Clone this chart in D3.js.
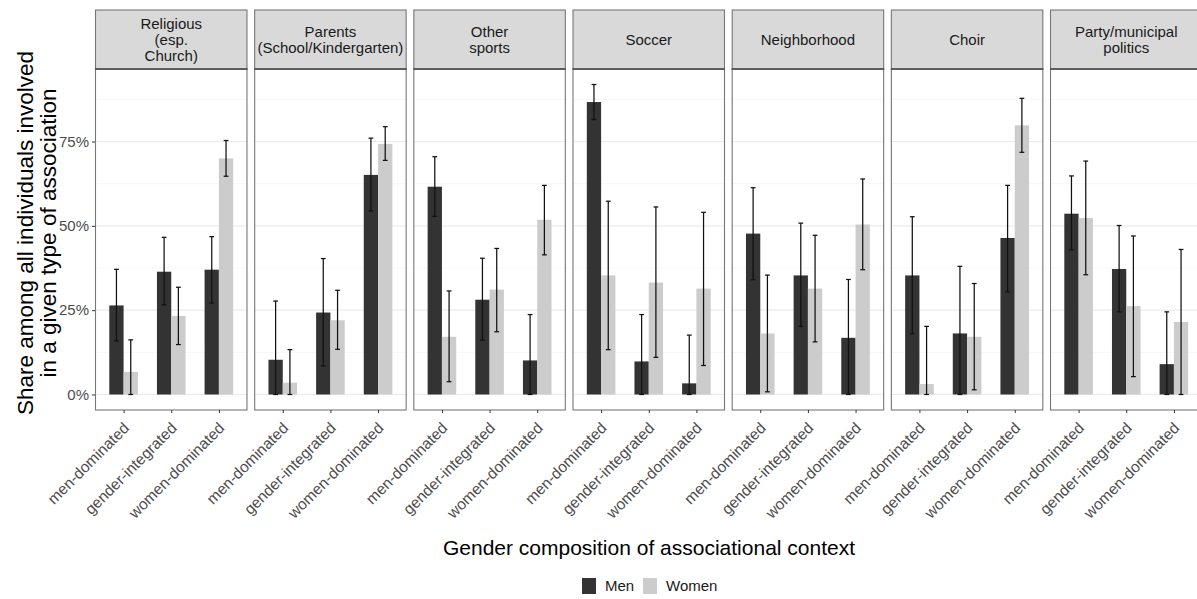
<!DOCTYPE html>
<html>
<head>
<meta charset="utf-8">
<script src="https://cdn.jsdelivr.net/npm/d3@7"></script>
<style>
  html, body { margin: 0; padding: 0; background: #fff; }
  svg { display: block; font-family: "Liberation Sans", Arial, Helvetica, sans-serif; }
</style>
</head>
<body>
<svg id="chart" width="1197" height="599"></svg>
<script>
// Association types (facet strips), one entry per line of the strip label
const panelLabels = [
  ["Religious", "(esp.", "Church)"],
  ["Parents", "(School/Kindergarten)"],
  ["Other", "sports"],
  ["Soccer"],
  ["Neighborhood"],
  ["Choir"],
  ["Party/municipal", "politics"]
];
const contexts = ["men-dominated", "gender-integrated", "women-dominated"];
const genders = ["Men", "Women"];

// Shares (%) per panel, in context order
const menShare   = [[26.4, 36.4, 37.0], [10.3, 24.3, 65.1], [61.6, 28.1, 10.1], [86.7, 9.8, 3.3], [47.7, 35.3, 16.8], [35.3, 18.1, 46.4], [53.6, 37.2, 9.0]];
const menLow     = [[15.9, 26.6, 27.1], [0.0, 8.5, 54.4], [52.8, 16.1, 0.0], [81.5, 0.0, 0.0], [34.0, 20.2, 0.0], [18.0, 0.0, 30.4], [42.9, 24.5, 0.0]];
const menHigh    = [[37.1, 46.6, 46.8], [27.7, 40.3, 76.0], [70.5, 40.4, 23.7], [91.9, 23.7, 17.6], [61.3, 50.8, 34.1], [52.7, 38.0, 62.0], [64.8, 50.1, 24.5]];
const womenShare = [[6.7, 23.3, 70.0], [3.5, 22.0, 74.3], [17.1, 31.1, 51.8], [35.3, 33.2, 31.4], [18.1, 31.4, 50.4], [3.1, 17.1, 79.8], [52.3, 26.2, 21.5]];
const womenLow   = [[0.0, 14.8, 64.7], [0.0, 13.4, 69.4], [3.8, 18.6, 41.4], [13.3, 11.0, 8.6], [0.8, 15.6, 37.0], [0.0, 1.4, 71.8], [35.5, 5.3, 0.0]];
const womenHigh  = [[16.2, 31.8, 75.3], [13.3, 30.9, 79.4], [30.7, 43.3, 62.0], [57.3, 55.6, 54.0], [35.4, 47.2, 63.9], [20.2, 32.9, 87.8], [69.2, 47.0, 43.0]];
const yTicks = [0, 25, 50, 75];
const yMinor = [12.5, 37.5, 62.5, 87.5];

const colors = { Men: "#333333", Women: "#cccccc" };

// Long-format rows
const rows = [];
panelLabels.forEach((_, p) => {
  contexts.forEach((c, k) => {
    rows.push({ panel: p, context: c, gender: "Men", value: menShare[p][k], lo: menLow[p][k], hi: menHigh[p][k] });
    rows.push({ panel: p, context: c, gender: "Women", value: womenShare[p][k], lo: womenLow[p][k], hi: womenHigh[p][k] });
  });
});

const svg = d3.select("#chart");

const panelTop = 69, panelBottom = 410, stripTop = 10;
const panelX = d3.scaleBand()
  .domain(d3.range(panelLabels.length))
  .range([95, 1202.5])
  .paddingInner(0.042)
  .paddingOuter(0);
const pw = panelX.bandwidth();

const yMax = d3.max(rows, d => d.hi);
const yPad = yMax * 0.05;
const y = d3.scaleLinear().domain([-yPad, yMax + yPad]).range([panelBottom, panelTop]);

const x = d3.scalePoint().domain(contexts).range([0, pw]).padding(0.6);
const step = x.step();
const dodge = d3.scaleBand().domain(genders).range([-0.3 * step, 0.3 * step]).padding(0);

panelLabels.forEach((lines, p) => {
  const g = svg.append("g").attr("transform", `translate(${panelX(p)},0)`);

  // panel background + grid
  g.append("rect").attr("x", 0).attr("y", panelTop).attr("width", pw).attr("height", panelBottom - panelTop)
    .attr("fill", "#fff");
  g.selectAll("line.minor").data(yMinor).join("line")
    .attr("x1", 0).attr("x2", pw).attr("y1", d => y(d)).attr("y2", d => y(d))
    .attr("stroke", "#f3f3f3").attr("stroke-width", 0.7);
  g.selectAll("line.major").data(yTicks).join("line")
    .attr("x1", 0).attr("x2", pw).attr("y1", d => y(d)).attr("y2", d => y(d))
    .attr("stroke", "#ebebeb").attr("stroke-width", 1.2);

  const data = rows.filter(r => r.panel === p);

  // bars
  g.selectAll("rect.bar").data(data).join("rect")
    .attr("class", "bar")
    .attr("x", d => x(d.context) + dodge(d.gender))
    .attr("width", dodge.bandwidth())
    .attr("y", d => y(d.value))
    .attr("height", d => y(0) - y(d.value))
    .attr("fill", d => colors[d.gender]);

  // error bars
  const cap = 0.05 * step;
  const eb = g.selectAll("g.eb").data(data).join("g")
    .attr("transform", d => `translate(${x(d.context) + dodge(d.gender) + dodge.bandwidth() / 2},0)`)
    .attr("stroke", "#111").attr("stroke-width", 1.25).attr("fill", "none");
  eb.append("line").attr("x1", 0).attr("x2", 0).attr("y1", d => y(d.lo)).attr("y2", d => y(d.hi));
  eb.append("line").attr("x1", -cap).attr("x2", cap).attr("y1", d => y(d.hi)).attr("y2", d => y(d.hi));
  eb.append("line").attr("x1", -cap).attr("x2", cap).attr("y1", d => y(d.lo)).attr("y2", d => y(d.lo));

  // panel border
  g.append("rect").attr("x", 0.5).attr("y", panelTop).attr("width", pw - 1).attr("height", panelBottom - panelTop)
    .attr("fill", "none").attr("stroke", "#777").attr("stroke-width", 1.1);

  // strip
  g.append("rect").attr("x", 0.5).attr("y", stripTop).attr("width", pw - 1).attr("height", panelTop - stripTop)
    .attr("fill", "#d9d9d9").attr("stroke", "#777").attr("stroke-width", 1.1);
  g.append("line").attr("x1", 0).attr("x2", pw).attr("y1", panelTop).attr("y2", panelTop)
    .attr("stroke", "#4a4a4a").attr("stroke-width", 1.3);
  const lh = 16;
  const mid = (stripTop + panelTop) / 2;
  const t = g.append("text").attr("text-anchor", "middle").attr("font-size", 15).attr("fill", "#1a1a1a");
  lines.forEach((ln, i) => {
    t.append("tspan").attr("x", pw / 2)
      .attr("y", mid + (i - (lines.length - 1) / 2) * lh)
      .attr("dy", "0.36em").text(ln);
  });

  // x axis
  const xa = g.append("g").attr("transform", `translate(0,${panelBottom})`)
    .call(d3.axisBottom(x).tickSize(3).tickSizeOuter(0));
  xa.select(".domain").remove();
  xa.selectAll(".tick line").attr("stroke", "#333");
  xa.selectAll(".tick text")
    .attr("font-size", 15.5).attr("fill", "#4d4d4d")
    .attr("font-family", "Liberation Sans, Arial, sans-serif")
    .attr("text-anchor", "end")
    .attr("y", 0).attr("dy", 0)
    .attr("transform", "translate(6,19) rotate(-45)");
});

// y axis on the first panel
const ya = svg.append("g").attr("transform", `translate(${panelX(0)},0)`)
  .call(d3.axisLeft(y).tickValues(yTicks).tickFormat(d => d + "%").tickSize(3));
ya.select(".domain").remove();
ya.selectAll(".tick line").attr("stroke", "#333");
ya.selectAll(".tick text").attr("font-size", 15).attr("fill", "#4d4d4d")
  .attr("font-family", "Liberation Sans, Arial, sans-serif").attr("x", -6);

// axis titles
const yTitle = svg.append("text").attr("transform", "translate(25,233) rotate(-90)")
  .attr("text-anchor", "middle").attr("font-size", 22.5).attr("fill", "#000");
yTitle.append("tspan").attr("x", 0).attr("dy", "0.36em").text("Share among all individuals involved");
yTitle.append("tspan").attr("x", 0).attr("dy", "1.0em").text("in a given type of association");

svg.append("text").attr("x", 649).attr("y", 555).attr("text-anchor", "middle")
  .attr("font-size", 21).attr("fill", "#000").text("Gender composition of associational context");

// legend
const legend = svg.append("g").attr("transform", "translate(582,578)");
const items = [{ g: "Men", x: 0 }, { g: "Women", x: 61 }];
items.forEach(it => {
  legend.append("rect").attr("x", it.x).attr("y", 0).attr("width", 14).attr("height", 16).attr("fill", colors[it.g]);
  legend.append("text").attr("x", it.x + 23).attr("y", 8).attr("dy", "0.36em")
    .attr("font-size", 15).attr("fill", "#1a1a1a").text(it.g);
});
</script>
</body>
</html>
